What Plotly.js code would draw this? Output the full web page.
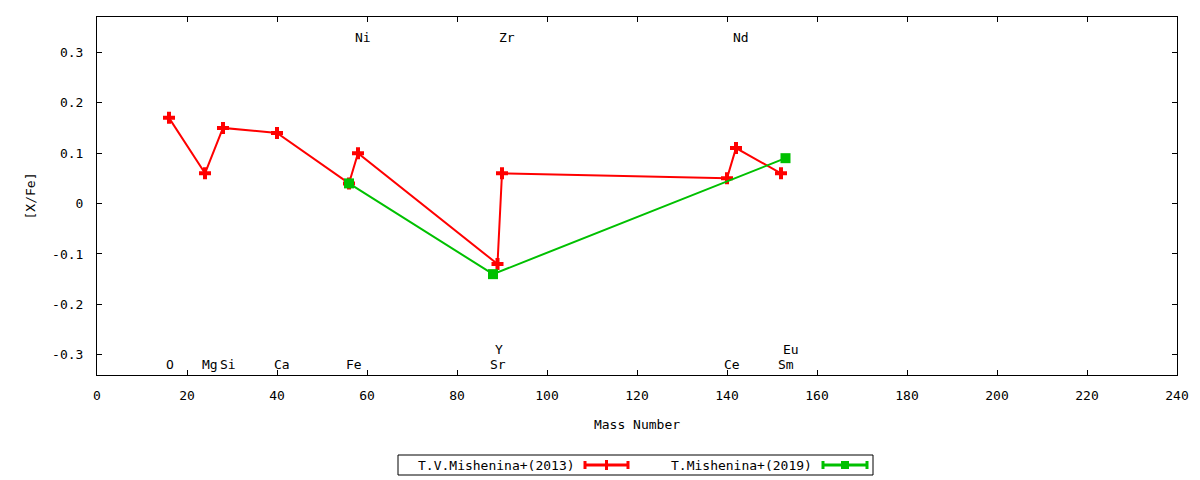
<!DOCTYPE html>
<html>
<head>
<meta charset="utf-8">
<script src="https://cdn.plot.ly/plotly-3.0.1.min.js"></script>
<style>
  body { margin: 0; background: #fff; }
  #chart { width: 1200px; height: 480px; }
</style>
</head>
<body>
<div id="chart"></div>
<script>
// [X/Fe] against mass number
var mishenina2013Mass = [16, 24, 28, 40, 56, 58, 89, 90, 140, 142, 152];
var mishenina2013Val  = [0.17, 0.06, 0.15, 0.14, 0.04, 0.10, -0.12, 0.06, 0.05, 0.11, 0.06];

var mishenina2019Mass = [56, 88, 153];
var mishenina2019Val  = [0.04, -0.14, 0.09];

// element labels drawn inside the frame
var elemNames = ['O', 'Mg', 'Si', 'Ca', 'Fe', 'Sr', 'Ce', 'Sm', 'Y', 'Eu', 'Ni', 'Zr', 'Nd'];
var elemMass  = [16, 24, 28, 40, 56, 88, 140, 152, 89, 153, 58, 90, 142];
var elemY     = [-0.32, -0.32, -0.32, -0.32, -0.32, -0.32, -0.32, -0.32, -0.29, -0.29, 0.33, 0.33, 0.33];

var xTickVals = [0, 20, 40, 60, 80, 100, 120, 140, 160, 180, 200, 220, 240];
var yTickVals = [-0.3, -0.2, -0.1, 0, 0.1, 0.2, 0.3];
var yTickText = ['-0.3', '-0.2', '-0.1', '0', '0.1', '0.2', '0.3'];

var legendNames = ['T.V.Mishenina+(2013)', 'T.Mishenina+(2019)'];

var RED = '#ff0000';
var GREEN = '#00c000';
var FONT = 'DejaVu Sans Mono, monospace';

// plot frame in pixels, used only to place the hand made legend
var L = 97, R = 1177, T = 17, B = 375;
function px(x) { return (x - L) / (R - L); }
function py(y) { return (B - y) / (B - T); }

var red = {
  x: mishenina2013Mass,
  y: mishenina2013Val,
  type: 'scatter',
  mode: 'lines+markers',
  name: legendNames[0],
  line: {color: RED, width: 2},
  marker: {color: RED, symbol: 'cross', size: 10},
};
var green = {
  x: mishenina2019Mass,
  y: mishenina2019Val,
  type: 'scatter',
  mode: 'lines+markers',
  name: legendNames[1],
  line: {color: GREEN, width: 2},
  marker: {color: GREEN, symbol: 'square', size: 10},
};

var annotations = elemNames.map(function(n, i) {
  return {
    x: elemMass[i], y: elemY[i], xref: 'x', yref: 'y', xshift: -4,
    text: n, showarrow: false, xanchor: 'left', yanchor: 'middle',
    borderpad: 0, font: {family: FONT, size: 13, color: '#000'}
  };
});

var shapes = [];
// legend box
shapes.push({type: 'rect', xref: 'paper', yref: 'paper',
  x0: px(398), x1: px(873), y0: py(455), y1: py(475),
  line: {color: '#000', width: 1}, fillcolor: 'rgba(0,0,0,0)'});

function legendSample(x0, x1, yc, color, square) {
  shapes.push({type: 'line', xref: 'paper', yref: 'paper',
    x0: px(x0), x1: px(x1), y0: py(yc), y1: py(yc), line: {color: color, width: 3}});
  [x0, x1].forEach(function(xx) {
    shapes.push({type: 'line', xref: 'paper', yref: 'paper',
      x0: px(xx), x1: px(xx), y0: py(yc - 4), y1: py(yc + 4), line: {color: color, width: 3}});
  });
  var xm = (x0 + x1) / 2;
  if (square) {
    shapes.push({type: 'rect', xref: 'paper', yref: 'paper',
      x0: px(xm - 4), x1: px(xm + 4), y0: py(yc - 4), y1: py(yc + 4),
      line: {width: 0}, fillcolor: color});
  } else {
    shapes.push({type: 'rect', xref: 'paper', yref: 'paper',
      x0: px(xm - 1.5), x1: px(xm + 1.5), y0: py(yc - 5), y1: py(yc + 5),
      line: {width: 0}, fillcolor: color});
  }
}
legendSample(585, 628, 465, RED, false);
legendSample(823, 867, 465, GREEN, true);

annotations.push({xref: 'paper', yref: 'paper', x: px(577), y: py(465),
  text: legendNames[0], showarrow: false, xanchor: 'right', yanchor: 'middle',
  font: {family: FONT, size: 13, color: '#000'}});
annotations.push({xref: 'paper', yref: 'paper', x: px(814), y: py(465),
  text: legendNames[1], showarrow: false, xanchor: 'right', yanchor: 'middle',
  font: {family: FONT, size: 13, color: '#000'}});

var axisCommon = {
  showgrid: false, zeroline: false,
  showline: true, mirror: 'ticks', linecolor: '#000', linewidth: 1,
  ticks: 'inside', ticklen: 5, tickcolor: '#000', tickwidth: 1,
  tickfont: {family: FONT, size: 13, color: '#000'},
  automargin: false,
};

var layout = {
  width: 1200, height: 480,
  margin: {l: L, r: 1200 - R, t: T, b: 480 - B},
  paper_bgcolor: '#fff', plot_bgcolor: '#fff',
  showlegend: false,
  font: {family: FONT, size: 13, color: '#000'},
  xaxis: Object.assign({}, axisCommon, {
    range: [0, 240], tickvals: xTickVals, ticklabelstandoff: 8,
    title: {text: 'Mass Number', font: {family: FONT, size: 13}, standoff: 18},
  }),
  yaxis: Object.assign({}, axisCommon, {
    range: [-0.34, 0.37], tickvals: yTickVals, ticktext: yTickText, ticklabelstandoff: 10,
    title: {text: '[X/Fe]', font: {family: FONT, size: 13}, standoff: 13},
  }),
  annotations: annotations,
  shapes: shapes,
};

Plotly.newPlot('chart', [red, green], layout, {displayModeBar: false, staticPlot: true});
</script>
</body>
</html>
